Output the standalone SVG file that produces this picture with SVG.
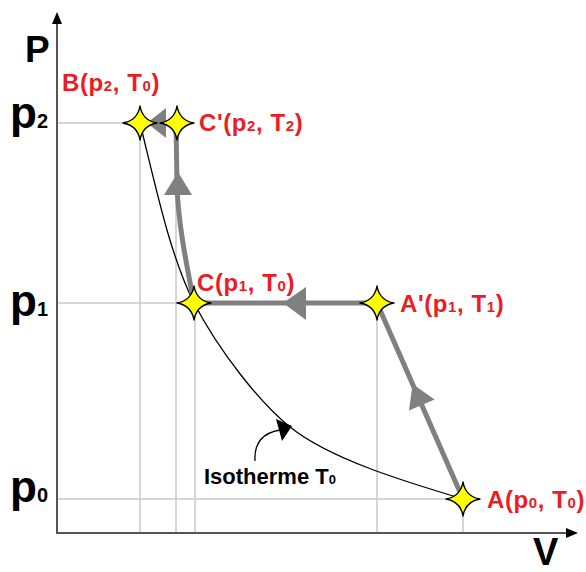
<svg xmlns="http://www.w3.org/2000/svg" width="586" height="572" viewBox="0 0 586 572">
<style>
.grid{stroke:#c8c8c8;stroke-width:1.5;fill:none}
.axis{stroke:#555;stroke-width:2;fill:none}
.flow{stroke:#808080;stroke-width:5;fill:none;stroke-linecap:round}
.head{fill:#808080}
.iso{stroke:#000;stroke-width:1.3;fill:none}
.star{fill:#ffff00;stroke:#000;stroke-width:1.4;stroke-linejoin:round}
.lbl{font-family:"Liberation Sans",Arial,sans-serif;font-weight:bold;font-size:24px;fill:#ed1c24;letter-spacing:0.6px}
.ax{font-family:"Liberation Sans",Arial,sans-serif;font-weight:bold;fill:#000}
.sub{font-size:15px}
</style>
<defs>
<path id="star" d="M0,-17 Q2.5,-2.5 17,0 Q2.5,2.5 0,17 Q-2.5,2.5 -17,0 Q-2.5,-2.5 0,-17Z"/>
</defs>
<g id="grid">
<line class="grid" x1="57" y1="123" x2="140" y2="123"/>
<line class="grid" x1="57" y1="303" x2="194" y2="303"/>
<line class="grid" x1="57" y1="499" x2="463" y2="499"/>
<line class="grid" x1="140" y1="123" x2="140" y2="533"/>
<line class="grid" x1="176" y1="123" x2="176" y2="533"/>
<line class="grid" x1="195" y1="303" x2="195" y2="533"/>
<line class="grid" x1="377" y1="303" x2="377" y2="533"/>
<line class="grid" x1="463" y1="499" x2="463" y2="533"/>
</g>
<g id="axes">
<line class="axis" x1="57" y1="534" x2="57" y2="22"/>
<polygon points="57,12 52,24 62,24" fill="#000"/>
<line class="axis" x1="56" y1="533" x2="568" y2="533"/>
<polygon points="578,533 566,528 566,538" fill="#000"/>
<text class="ax" x="25" y="62" font-size="37">P</text>
<text class="ax" x="533" y="565" font-size="38">V</text>
<text class="ax" x="10" y="128" font-size="44">p<tspan font-size="20">2</tspan></text>
<text class="ax" x="10" y="316" font-size="44">p<tspan font-size="20">1</tspan></text>
<text class="ax" x="10" y="502" font-size="44">p<tspan font-size="20">0</tspan></text>
</g>
<g id="isotherm">
<path class="iso" d="M140,123 C156,188 170,255 194,303 C219,351 260,403 290,427 C330,459 403,481 463,499"/>
<path class="iso" d="M255,461 C254,444 262,433 280,430"/>
<polygon points="292,426 276,419 282,441" fill="#000"/>
<text class="ax" x="204" y="484" font-size="22">Isotherme T<tspan font-size="13">0</tspan></text>
</g>
<g id="connectors">
<line x1="124" y1="123" x2="140" y2="123" stroke="#b0b0b0" stroke-width="4"/>
<line class="flow" x1="463" y1="499" x2="377" y2="303"/>
<line class="flow" x1="377" y1="303" x2="194" y2="303"/>
<path class="flow" d="M194,303 C186,262 178,222 177,185 L176,123"/>
<line class="flow" x1="176" y1="123" x2="140" y2="123"/>
<polygon class="head" points="412.6,384 434.6,399.4 409,410.6"/>
<polygon class="head" points="283,303 306,287 306,320"/>
<polygon class="head" points="178,172 164,195 192,195"/>
<polygon class="head" points="147,123 166,108 166,138"/>
</g>
<g id="B">
<use href="#star" class="star" x="140" y="123"/>
<text class="lbl" x="62" y="91">B(p<tspan class="sub">2</tspan>, T<tspan class="sub">0</tspan>)</text>
</g>
<g id="Cprime">
<use href="#star" class="star" x="177" y="123"/>
<text class="lbl" x="199" y="131">C'(p<tspan class="sub">2</tspan>, T<tspan class="sub">2</tspan>)</text>
</g>
<g id="C">
<use href="#star" class="star" x="194" y="303"/>
<text class="lbl" x="197" y="291">C(p<tspan class="sub">1</tspan>, T<tspan class="sub">0</tspan>)</text>
</g>
<g id="Aprime">
<use href="#star" class="star" x="377" y="303"/>
<text class="lbl" x="400" y="312">A'(p<tspan class="sub">1</tspan>, T<tspan class="sub">1</tspan>)</text>
</g>
<g id="A">
<use href="#star" class="star" x="463" y="499"/>
<text class="lbl" x="487" y="508">A(p<tspan class="sub">0</tspan>, T<tspan class="sub">0</tspan>)</text>
</g>
</svg>
